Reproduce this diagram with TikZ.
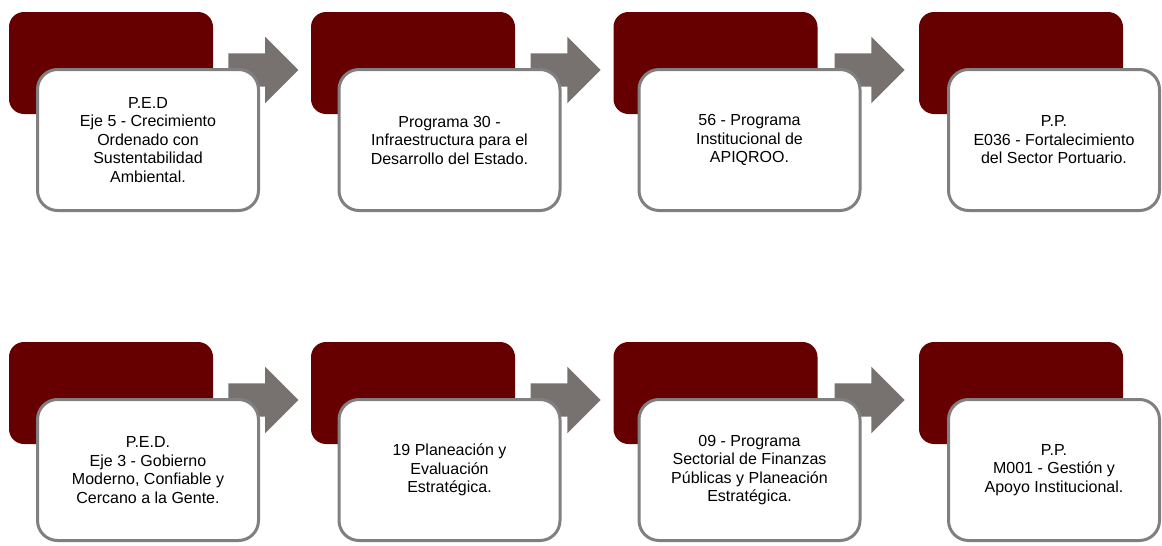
\documentclass[tikz,border=0pt]{standalone}
\usepackage{fontspec}
\setmainfont{Liberation Sans}
\usepackage{xcolor}
\usetikzlibrary{calc,shapes.arrows}
\definecolor{vino}{RGB}{102,0,0}
\definecolor{grisflecha}{RGB}{119,114,112}
\definecolor{grisborde}{RGB}{128,128,128}
\tikzset{
    fondo/.style={fill=vino, rounded corners=15pt, minimum width=204pt,
        minimum height=102pt, inner sep=0pt},
    caja/.style={draw=grisborde, line width=3pt, fill=white, rounded corners=20pt,
        minimum width=221pt, minimum height=141pt, inner sep=0pt, align=center,
        font=\fontsize{16}{18.5}\selectfont},
    flecha/.style={single arrow, fill=grisflecha, minimum height=70pt,
        text height=16.5pt, text depth=16.5pt, text width=0pt,
        single arrow head extend=16.5pt,
        single arrow head indent=0pt, inner sep=0pt},
}

\begin{document}
\begin{tikzpicture}[x=1pt,y=-1pt]
    \useasboundingbox (0,0) rectangle (1162,546);
    \pgfmathsetmacro{\fila}{330}
    % fila de arriba
    \node[fondo] (r1) at (111,63) {};
    \node[fondo] (r2) at (413,63) {};
    \node[fondo] (r3) at (715.5,63) {};
    \node[fondo] (r4) at (1021,63) {};
    \node[flecha] (f1) at ($(r1.east)!0.5!(r2.west)+(-7,7)$) {};
    \node[flecha] (f2) at ($(r2.east)!0.5!(r3.west)+(-7,7)$) {};
    \node[flecha] (f3) at ($(r3.east)!0.5!(r4.west)+(-7,7)$) {};
    \node[caja] (c1) at (148,140) {P.E.D\\Eje 5 - Crecimiento\\Ordenado con\\Sustentabilidad\\Ambiental.};
    \node[caja] (c2) at (449.5,140) {Programa 30 -\\Infraestructura para el\\Desarrollo del Estado.};
    \node[caja] (c3) at (749.5,140) {56 - Programa\\Institucional de\\APIQROO.};
    \node[caja, minimum width=211pt] (c4) at (1054,140) {P.P.\\E036 - Fortalecimiento\\del Sector Portuario.};
    % fila de abajo
    \node[fondo] (r5) at (111,63+\fila) {};
    \node[fondo] (r6) at (413,63+\fila) {};
    \node[fondo] (r7) at (715.5,63+\fila) {};
    \node[fondo] (r8) at (1021,63+\fila) {};
    \node[flecha] (f4) at ($(r5.east)!0.5!(r6.west)+(-7,7)$) {};
    \node[flecha] (f5) at ($(r6.east)!0.5!(r7.west)+(-7,7)$) {};
    \node[flecha] (f6) at ($(r7.east)!0.5!(r8.west)+(-7,7)$) {};
    \node[caja] (c5) at (148,140+\fila) {P.E.D.\\Eje 3 - Gobierno\\Moderno, Confiable y\\Cercano a la Gente.};
    \node[caja] (c6) at (449.5,140+\fila) {19 Planeación y\\Evaluación\\Estratégica.};
    \node[caja] (c7) at (749.5,140+\fila) {09 - Programa\\Sectorial de Finanzas\\Públicas y Planeación\\Estratégica.};
    \node[caja, minimum width=211pt] (c8) at (1054,140+\fila) {P.P.\\M001 - Gestión y\\Apoyo Institucional.};
\end{tikzpicture}
\end{document}
